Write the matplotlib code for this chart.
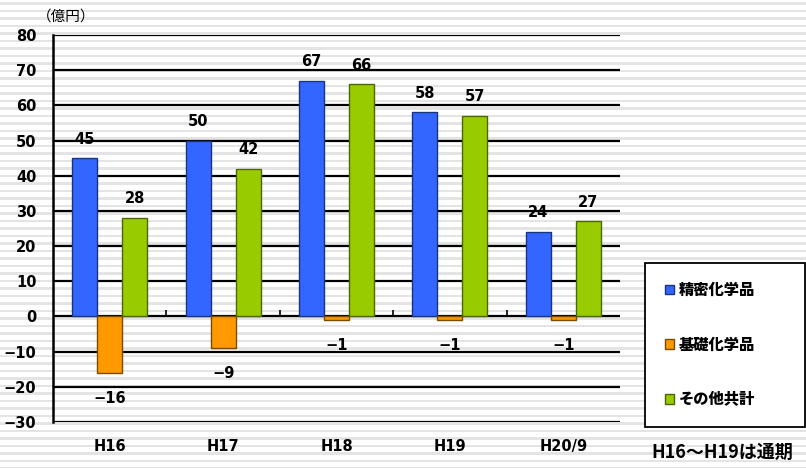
import numpy as np
import matplotlib
matplotlib.use("Agg")
import matplotlib.pyplot as plt
from matplotlib.patches import Patch

plt.rcParams['font.family'] = ['DejaVu Sans', 'Noto Sans CJK JP']

# data
categories = ["H16", "H17", "H18", "H19", "H20/9"]
fine_chem = [45, 50, 67, 58, 24]      # 精密化学品
basic_chem = [-16, -9, -1, -1, -1]    # 基礎化学品
others = [28, 42, 66, 57, 27]         # その他共計
series_names = ["精密化学品", "基礎化学品", "その他共計"]
yticks = list(range(-30, 90, 10))

colors = ["#3366ff", "#ff9900", "#99cc00"]
edges = ["#1a3380", "#7a4a00", "#4d6600"]

fig = plt.figure(figsize=(8.06, 4.68), dpi=100)

# striped background
bg = fig.add_axes([0, 0, 1, 1], zorder=-10)
bg.set_xlim(0, 806)
bg.set_ylim(468, 0)
for y0 in np.arange(2, 468, 7.5):
    bg.axhspan(y0, y0 + 2.5, color="#e4e4e4", lw=0)
bg.axis("off")

ax = fig.add_axes([53/806, 46/468, 567/806, 387/468])
ax.patch.set_alpha(0)

x = np.arange(len(categories))
w = 0.22
for k, vals in enumerate([fine_chem, basic_chem, others]):
    xs = x + (k - 1) * w
    ax.bar(xs, vals, width=w, color=colors[k], edgecolor=edges[k], linewidth=1.0, zorder=3)
    for xi, v in zip(xs, vals):
        if v >= 0:
            ax.text(xi, v + 3.3, str(v), ha="center", va="bottom", fontsize=10.5, fontweight="bold")
        else:
            ax.text(xi, v - 5.2, "−" + str(-v), ha="center", va="top", fontsize=10.5, fontweight="bold")

ax.set_xlim(-0.5, len(categories) - 0.5)
ax.set_ylim(-30, 80)
ax.set_yticks(yticks)
ax.set_yticklabels([str(t) if t >= 0 else "−" + str(-t) for t in yticks], fontsize=10.5, fontweight="bold")
for t in yticks:
    ax.axhline(t, color="black", lw=1.6, zorder=2)
ax.vlines(x[:-1] + 0.5, 0, 1.8, color="black", lw=1.2, zorder=2)

ax.set_xticks(x)
ax.set_xticklabels(categories, fontsize=10.5, fontweight="bold")
ax.tick_params(axis="x", length=0, pad=12)
ax.tick_params(axis="y", length=0, pad=12)
for s in ["top", "right", "bottom"]:
    ax.spines[s].set_visible(False)
ax.spines["left"].set_linewidth(1.8)

fig.text(37/806, 1 - 16/468, "（億円）", fontsize=10.5, va="center", ha="left")

handles = [Patch(facecolor=c, edgecolor=e) for c, e in zip(colors, edges)]
leg = fig.legend(handles, series_names, loc="upper left",
                 bbox_to_anchor=(645/806, 1 - 263/468, 160/806, 0), mode="expand",
                 frameon=True, fancybox=False, edgecolor="black", framealpha=1,
                 prop={"family": ["Noto Sans CJK JP"], "weight": "heavy", "size": 11},
                 labelspacing=2.6, handlelength=0.6, handleheight=0.6,
                 handletextpad=0.3, borderpad=1.3, borderaxespad=0)
leg.get_frame().set_linewidth(1.3)

fig.text(722/806, 1 - 452/468, "H16～H19は通期", fontsize=13, fontweight="bold",
         family=["Noto Sans CJK JP"], ha="center", va="center")

fig.savefig("out.png", dpi=100)
